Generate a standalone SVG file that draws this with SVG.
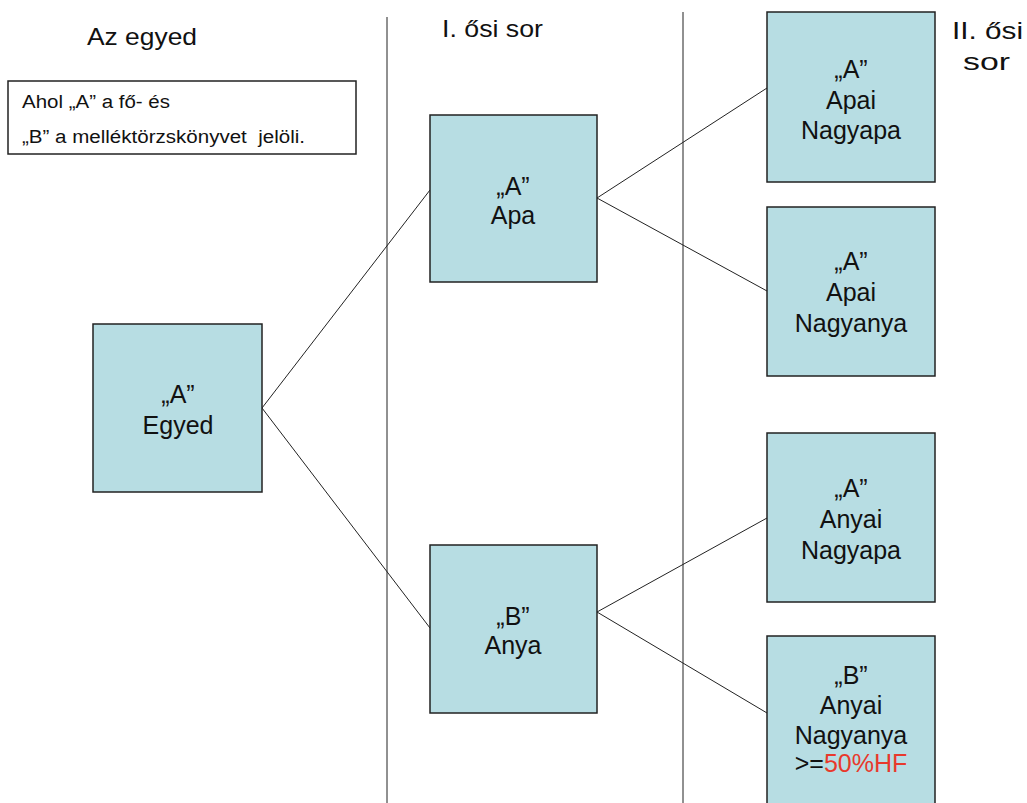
<svg xmlns="http://www.w3.org/2000/svg" width="1027" height="803" viewBox="0 0 1027 803">
<style>
.box{fill:#b7dde3;stroke:#222;stroke-width:1.5}
.t{font-family:"Liberation Sans",Arial,sans-serif;font-size:25px;fill:#111;text-anchor:middle}
.h{font-family:"Liberation Sans",Arial,sans-serif;font-size:24px;fill:#111}
.l{font-family:"Liberation Sans",Arial,sans-serif;font-size:18px;fill:#111}
.c{stroke:#222;stroke-width:1;fill:none}
</style>
<rect width="1027" height="803" fill="#fff"/>
<g id="headers">
<text class="h" x="87" y="45" textLength="110" lengthAdjust="spacingAndGlyphs">Az egyed</text>
<text class="h" x="442" y="37" textLength="101" lengthAdjust="spacingAndGlyphs">I. ősi sor</text>
<text class="h" x="952" y="39" textLength="71" lengthAdjust="spacingAndGlyphs">II. ősi</text>
<text class="h" x="963" y="70" textLength="47" lengthAdjust="spacingAndGlyphs">sor</text>
</g>
<g id="dividers">
<line class="c" x1="387" y1="17" x2="387" y2="803" stroke-width="1.5"/>
<line class="c" x1="683" y1="12" x2="683" y2="803" stroke-width="1.5"/>
</g>
<g id="legend">
<rect x="8" y="81" width="348" height="73" fill="#fff" stroke="#222" stroke-width="1.5"/>
<text class="l" x="22" y="108" textLength="148" lengthAdjust="spacingAndGlyphs">Ahol „A” a fő- és</text>
<text class="l" x="22" y="143" textLength="283" lengthAdjust="spacingAndGlyphs" xml:space="preserve">„B” a melléktörzskönyvet  jelöli.</text>
</g>
<g id="connectors">
<line class="c" x1="262" y1="408" x2="430" y2="190"/>
<line class="c" x1="262" y1="408" x2="430" y2="628"/>
<line class="c" x1="597" y1="198" x2="767" y2="88"/>
<line class="c" x1="597" y1="198" x2="767" y2="291"/>
<line class="c" x1="597" y1="612" x2="767" y2="518"/>
<line class="c" x1="597" y1="612" x2="767" y2="713"/>
</g>
<g id="egyed">
<rect class="box" x="93" y="324" width="169" height="168"/>
<text class="t" x="178" y="403">„A”</text>
<text class="t" x="178" y="434">Egyed</text>
</g>
<g id="apa">
<rect class="box" x="430" y="115" width="167" height="167"/>
<text class="t" x="513" y="195">„A”</text>
<text class="t" x="513" y="224">Apa</text>
</g>
<g id="anya">
<rect class="box" x="430" y="545" width="167" height="168"/>
<text class="t" x="513" y="625">„B”</text>
<text class="t" x="513" y="654">Anya</text>
</g>
<g id="apai-nagyapa">
<rect class="box" x="767" y="12" width="168" height="170"/>
<text class="t" x="851" y="78">„A”</text>
<text class="t" x="851" y="109">Apai</text>
<text class="t" x="851" y="139">Nagyapa</text>
</g>
<g id="apai-nagyanya">
<rect class="box" x="767" y="207" width="168" height="169"/>
<text class="t" x="851" y="270">„A”</text>
<text class="t" x="851" y="301">Apai</text>
<text class="t" x="851" y="332">Nagyanya</text>
</g>
<g id="anyai-nagyapa">
<rect class="box" x="767" y="433" width="168" height="169"/>
<text class="t" x="851" y="497">„A”</text>
<text class="t" x="851" y="528">Anyai</text>
<text class="t" x="851" y="559">Nagyapa</text>
</g>
<g id="anyai-nagyanya">
<rect class="box" x="767" y="636" width="168" height="172"/>
<text class="t" x="851" y="684">„B”</text>
<text class="t" x="851" y="714">Anyai</text>
<text class="t" x="851" y="744">Nagyanya</text>
<text class="t" x="851" y="772">&gt;=<tspan fill="#e8392c">50%HF</tspan></text>
</g>
</svg>
